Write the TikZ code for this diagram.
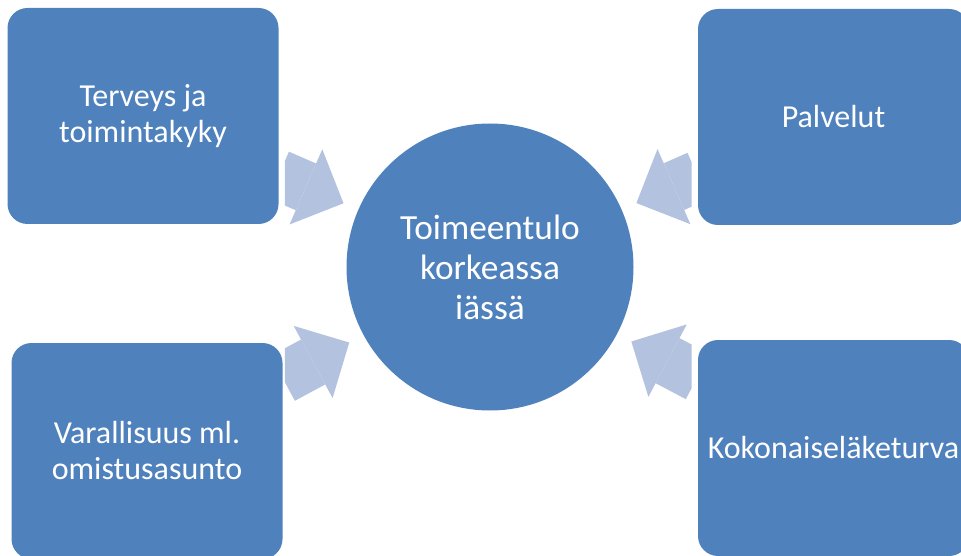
\documentclass[tikz,border=0pt]{standalone}
\usepackage{fontspec}
\setmainfont{Carlito}
\usetikzlibrary{shapes,arrows.meta}
\definecolor{officeblue}{RGB}{79,129,189}
\definecolor{paleblue}{RGB}{179,194,222}
\tikzstyle{sidebox} = [rectangle, rounded corners=15pt, minimum width=203.25pt, minimum height=162pt, text centered, align=center, inner sep=0pt, fill=officeblue, text=white, font=\fontsize{24}{27}\selectfont]
\tikzstyle{hub} = [circle, minimum size=215.25pt, inner sep=0pt, align=center, fill=officeblue, text=white, font=\fontsize{26.5}{30}\selectfont]
\tikzstyle{blockarrow} = [draw=paleblue, line width=38.25pt, -{Triangle[width=61.5pt, length=30.75pt, line width=0pt]}, shorten >=12pt]

\begin{document}
\begin{tikzpicture}[x=0.75pt, y=-0.75pt]
        \useasboundingbox (0,0) rectangle (961,556);
        \node (toimeentulo) [hub] at (490,267) {Toimeentulo\\korkeassa\\iässä};
        \node (terveys) [sidebox] at (143,116) {Terveys ja\\toimintakyky};
        \node (palvelut) [sidebox] at (833.5,117) {Palvelut};
        \node (varallisuus) [sidebox] at (147,451) {Varallisuus ml.\\omistusasunto};
        \node (elaketurva) [sidebox] at (833.5,448) {Kokonaiseläketurva};

        % arrow tails are cut straight, a little off the boxes
        \begin{scope}
            \clip ([xshift=4.5pt]terveys.north east) rectangle ([xshift=-4.5pt]elaketurva.south west);
            \draw [blockarrow] (terveys) -- (toimeentulo);
            \draw [blockarrow] (palvelut) -- (toimeentulo);
            \draw [blockarrow] (varallisuus) -- (toimeentulo);
            \draw [blockarrow] (elaketurva) -- (toimeentulo);
        \end{scope}
    \end{tikzpicture}
\end{document}
